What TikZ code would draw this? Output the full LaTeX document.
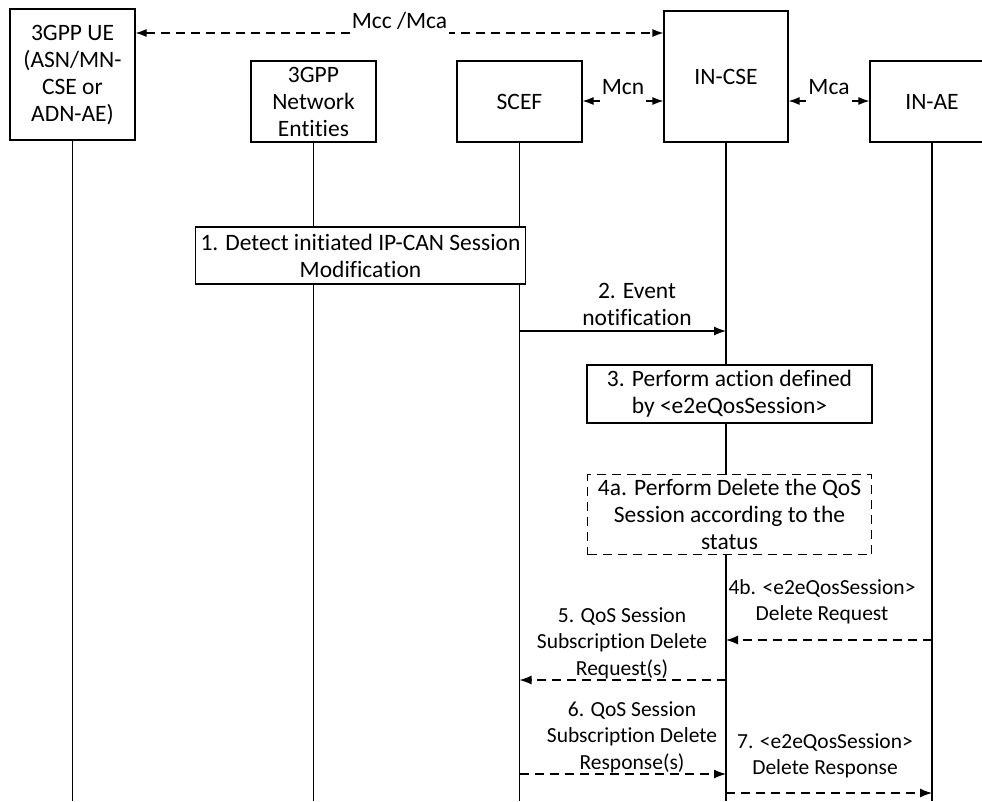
\documentclass[tikz,border=0pt]{standalone}
\usepackage{fontspec}
\setmainfont{Carlito}[Ligatures=NoCommon]
\usetikzlibrary{arrows.meta}
\begin{document}
\begin{tikzpicture}[x=1pt,y=-1pt,
  every node/.style={font=\fontsize{23.5}{27}\selectfont},
  ent/.style={draw, line width=1.2pt, fill=white, align=center, minimum width=125pt, inner sep=1pt},
  actbox/.style={draw, line width=1.2pt, fill=white, align=center, inner sep=1pt},
  life/.style={line width=1.2pt},
  tip/.style={-{Latex[length=12pt,width=9pt]}},
  dtip/.style={{Latex[length=11pt,width=8pt]}-{Latex[length=11pt,width=8pt]}},
  dsh/.style={dash pattern=on 9pt off 6pt},
  msg/.style={line width=1.2pt},
  lbl/.style={align=center, font=\fontsize{21.5}{26.5}\selectfont, inner sep=0pt},
  ifl/.style={fill=white, inner sep=2pt, text depth=9pt, anchor=base}
]
\useasboundingbox (0,0) rectangle (982,801);
\coordinate (bottom) at (0,801);

% entities
\node[ent, minimum height=131pt] (ue) at (72.5,74.5) {3GPP UE\\(ASN/MN-\\CSE or\\ADN-AE)};
\node[ent, minimum height=81pt] (ne) at (313.5,101.5) {3GPP\\Network\\Entities};
\node[ent, minimum height=81pt] (scef) at (519.5,101.5) {SCEF};
\node[ent, minimum width=124pt, minimum height=131pt] (incse) at (726,76.5) {IN-CSE};
\node[ent, minimum width=124pt, minimum height=81pt] (inae) at (932,101.5) {IN-AE};

% lifelines
\foreach \n in {ue,ne,scef,incse,inae}
  \draw[life] (\n.south) -- (\n.south |- bottom);

% reference points interfaces
\coordinate (mccy) at (0,33);
\coordinate (mcny) at (0,101);
\draw[msg, dsh, dtip] (ue.east |- mccy) -- (incse.west |- mccy)
  node[pos=0.5, ifl, yshift=5pt] {Mcc /Mca};
\draw[msg, dtip] (scef.east |- mcny) -- (incse.west |- mcny)
  node[midway, ifl, yshift=7pt] {Mcn};
\draw[msg, dtip] (incse.east |- mcny) -- (inae.west |- mcny)
  node[midway, ifl, yshift=7pt] {Mca};

% step 1
\node[actbox, minimum width=330pt, minimum height=57pt] (s1) at (360.5,255.5)
  {1. Detect initiated IP-CAN Session\\Modification};

% step 2
\coordinate (y2) at (0,331);
\draw[msg, tip] (scef |- y2) -- (incse |- y2);
\node[lbl, font=\fontsize{23.5}{27}\selectfont] (l2) at (637,304) {2. Event\\notification};

% step 3
\node[actbox, minimum width=285pt, minimum height=58pt] (s3) at (729.5,394)
  {3. Perform action defined\\by <e2eQosSession>};

% step 4a
\node[actbox, dashed, dsh, minimum width=284pt, minimum height=80pt] (s4a) at (729.5,514.5)
  {4a. Perform Delete the QoS\\Session according to the\\status};

% 4b
\coordinate (y4b) at (0,640);
\draw[msg, dsh, tip] (inae |- y4b) -- (incse |- y4b);
\node[lbl] (l4b) at (822,602) {4b. <e2eQosSession>\\Delete Request};

% 5
\coordinate (y5) at (0,680);
\draw[msg, dsh, tip] (incse |- y5) -- (scef |- y5);
\node[lbl] (l5) at (622,643) {5. QoS Session\\Subscription Delete\\Request(s)};

% 6
\coordinate (y6) at (0,774);
\draw[msg, dsh, tip] (scef |- y6) -- (incse |- y6);
\node[lbl] (l6) at (632,737) {6. QoS Session\\Subscription Delete\\Response(s)};

% 7
\coordinate (y7) at (0,793);
\draw[msg, dsh, tip] (incse |- y7) -- (inae |- y7);
\node[lbl] (l7) at (825,756) {7. <e2eQosSession>\\Delete Response};
\end{tikzpicture}
\end{document}
